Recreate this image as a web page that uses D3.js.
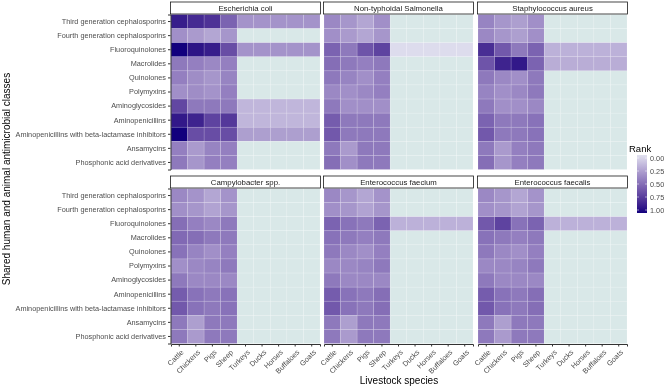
<!DOCTYPE html>
<html>
<head>
<meta charset="utf-8">
<script src="https://cdn.jsdelivr.net/npm/d3@7"></script>
<style>
  body { margin: 0; background: #fff; }
  svg { font-family: "Liberation Sans", Arial, sans-serif; will-change: transform; }
</style>
</head>
<body>
<div id="chart"></div>
<script>
// categories
const classes = ["Third generation cephalosporins", "Fourth generation cephalosporins",
  "Fluoroquinolones", "Macrolides", "Quinolones", "Polymyxins", "Aminoglycosides",
  "Aminopenicillins", "Aminopenicillins with beta-lactamase inhibitors", "Ansamycins",
  "Phosphonic acid derivatives"];
const species = ["Cattle", "Chickens", "Pigs", "Sheep", "Turkeys", "Ducks", "Horses", "Buffaloes", "Goats"];
const pathogens = ["Escherichia coli", "Non-typhoidal Salmonella", "Staphylococcus aureus",
  "Campylobacter spp.", "Enterococcus faecium", "Enterococcus faecalis"];
const legendTicks = [0, 0.25, 0.5, 0.75, 1];

// rank per class: [Cattle, Chickens, Pigs, Sheep], then the value shared by the other species (null = no data)
const ecoli = [
  [0.88, 0.82, 0.78, 0.55, 0.33], [0.35, 0.30, 0.25, 0.32, null], [1.00, 0.92, 0.88, 0.65, 0.33],
  [0.45, 0.42, 0.38, 0.42, null], [0.42, 0.36, 0.32, 0.40, null], [0.35, 0.36, 0.33, 0.42, null],
  [0.68, 0.45, 0.45, 0.45, 0.18], [0.90, 0.85, 0.70, 0.75, 0.18], [1.00, 0.65, 0.65, 0.65, 0.28],
  [0.42, 0.30, 0.40, 0.42, null], [0.45, 0.32, 0.42, 0.42, null]];
const salmonella = [
  [0.38, 0.32, 0.25, 0.35, null], [0.35, 0.30, 0.25, 0.32, null], [0.55, 0.45, 0.62, 0.70, 0.02],
  [0.50, 0.45, 0.42, 0.45, null], [0.45, 0.40, 0.35, 0.42, null], [0.38, 0.35, 0.38, 0.42, null],
  [0.45, 0.35, 0.35, 0.35, null], [0.58, 0.45, 0.45, 0.45, null], [0.60, 0.45, 0.45, 0.45, null],
  [0.45, 0.30, 0.45, 0.45, null], [0.50, 0.35, 0.45, 0.45, null]];
const saureus = [
  [0.40, 0.32, 0.28, 0.35, null], [0.38, 0.32, 0.28, 0.35, null], [0.80, 0.60, 0.45, 0.55, 0.20],
  [0.62, 0.85, 0.90, 0.55, 0.22], [0.45, 0.38, 0.35, 0.45, null], [0.40, 0.35, 0.38, 0.45, null],
  [0.45, 0.35, 0.35, 0.38, null], [0.55, 0.45, 0.45, 0.48, null], [0.60, 0.45, 0.45, 0.48, null],
  [0.45, 0.30, 0.42, 0.45, null], [0.50, 0.32, 0.42, 0.45, null]];
const campylo = [
  [0.38, 0.33, 0.25, 0.33, null], [0.35, 0.32, 0.26, 0.32, null], [0.50, 0.42, 0.38, 0.45, null],
  [0.52, 0.50, 0.45, 0.45, null], [0.48, 0.40, 0.35, 0.42, null], [0.35, 0.38, 0.40, 0.45, null],
  [0.45, 0.38, 0.38, 0.38, null], [0.58, 0.48, 0.45, 0.48, null], [0.60, 0.48, 0.45, 0.48, null],
  [0.45, 0.28, 0.45, 0.45, null], [0.45, 0.30, 0.45, 0.45, null]];
const efaecium = [
  [0.38, 0.32, 0.25, 0.33, null], [0.35, 0.32, 0.26, 0.32, null], [0.55, 0.48, 0.45, 0.55, 0.20],
  [0.48, 0.45, 0.42, 0.45, null], [0.45, 0.38, 0.35, 0.42, null], [0.38, 0.38, 0.40, 0.45, null],
  [0.45, 0.38, 0.38, 0.38, null], [0.58, 0.48, 0.45, 0.50, null], [0.60, 0.48, 0.45, 0.50, null],
  [0.45, 0.28, 0.45, 0.45, null], [0.45, 0.30, 0.45, 0.45, null]];
const efaecalis = [
  [0.38, 0.32, 0.25, 0.33, null], [0.35, 0.32, 0.26, 0.32, null], [0.60, 0.70, 0.48, 0.55, 0.20],
  [0.48, 0.45, 0.42, 0.45, null], [0.45, 0.38, 0.35, 0.42, null], [0.38, 0.38, 0.40, 0.45, null],
  [0.45, 0.38, 0.38, 0.38, null], [0.58, 0.48, 0.45, 0.50, null], [0.60, 0.48, 0.45, 0.50, null],
  [0.45, 0.28, 0.45, 0.45, null], [0.45, 0.30, 0.45, 0.45, null]];
const ranks = [ecoli, salmonella, saureus, campylo, efaecium, efaecalis];

const W = 669, H = 386;
const svg = d3.select("#chart").append("svg").attr("width", W).attr("height", H);

const colX = [171, 324, 478], panelW = 149;
const rowY = [14.5, 188.5], panelH = 155;
const stripH = 12;

const color = d3.scaleLinear().domain([0, 1]).range(["#e1e1ef", "#12007d"]).interpolate(d3.interpolateLab);
const naColor = "#d9e8e8";

const x = d3.scaleBand().domain(species).range([0, panelW]);
const y = d3.scaleBand().domain(classes).range([0, panelH]);

pathogens.forEach((p, pi) => {
  const c = pi % 3, r = Math.floor(pi / 3);
  const g = svg.append("g").attr("transform", `translate(${colX[c]},${rowY[r]})`);

  const cells = [];
  classes.forEach((cl, ci) => {
    species.forEach((sp, si) => {
      const row = ranks[pi][ci];
      cells.push({cl, sp, v: si < 4 ? row[si] : row[4]});
    });
  });

  g.selectAll("rect.cell").data(cells).enter().append("rect")
    .attr("class", "cell")
    .attr("x", d => x(d.sp)).attr("y", d => y(d.cl))
    .attr("width", x.bandwidth()).attr("height", y.bandwidth())
    .attr("fill", d => d.v == null ? naColor : color(d.v))
    .attr("stroke", "#fff").attr("stroke-opacity", 0.22).attr("stroke-width", 0.6);

  // strip
  svg.append("rect")
    .attr("x", colX[c] - 0.5).attr("y", rowY[r] - stripH - 0.5)
    .attr("width", panelW + 1).attr("height", stripH)
    .attr("fill", "#fff").attr("stroke", "#1a1a1a").attr("stroke-width", 0.8);
  svg.append("text")
    .attr("x", colX[c] + panelW / 2).attr("y", rowY[r] - stripH / 2 - 0.5)
    .attr("text-anchor", "middle").attr("dominant-baseline", "central")
    .attr("font-size", 7.8).attr("fill", "#1a1a1a").text(p);

  if (c === 0) {
    const ax = g.append("g").attr("transform", "translate(-0.5,0)").call(d3.axisLeft(y).tickSize(2.5).tickPadding(2));
    ax.select(".domain").attr("stroke", "#333").attr("stroke-width", 1);
    ax.selectAll(".tick line").attr("stroke", "#333");
    ax.selectAll("text").attr("font-size", 7.3).attr("fill", "#4d4d4d").attr("font-family", null);
  }
  if (r === 1) {
    const ax = g.append("g").attr("transform", `translate(0,${panelH + 0.5})`)
      .call(d3.axisBottom(x).tickSize(2.5).tickPadding(2));
    ax.select(".domain").attr("stroke", "#333").attr("stroke-width", 1);
    ax.selectAll(".tick line").attr("stroke", "#333");
    ax.selectAll("text").attr("font-size", 7.3).attr("fill", "#4d4d4d").attr("font-family", null)
      .attr("text-anchor", "end").attr("dy", null).attr("y", 0).attr("dominant-baseline", "central")
      .attr("transform", "translate(3,7) rotate(-45)");
  }
});

// axis titles
svg.append("text")
  .attr("x", (colX[0] + colX[2] + panelW) / 2).attr("y", 384)
  .attr("text-anchor", "middle").attr("font-size", 10).attr("fill", "#000")
  .text("Livestock species");
svg.append("text")
  .attr("transform", `translate(10,${(rowY[0] + rowY[1] + panelH) / 2}) rotate(-90)`)
  .attr("text-anchor", "middle").attr("font-size", 10).attr("fill", "#000")
  .text("Shared human and animal antimicrobial classes");

// legend
const lg = svg.append("g").attr("transform", "translate(637,155)");
lg.append("text").attr("x", -8).attr("y", -3).attr("font-size", 9.5).attr("fill", "#000").text("Rank");
const grad = svg.append("defs").append("linearGradient").attr("id", "rankGrad")
  .attr("x1", 0).attr("y1", 0).attr("x2", 0).attr("y2", 1);
d3.range(0, 1.01, 0.1).forEach(t => {
  grad.append("stop").attr("offset", t).attr("stop-color", color(t));
});
const lh = 58;
lg.append("rect").attr("x", 0).attr("y", 0).attr("width", 10).attr("height", lh).attr("fill", "url(#rankGrad)");
const ly = d3.scaleLinear().domain([0, 1]).range([3, lh - 3]);
lg.selectAll("line.lt").data(legendTicks).enter().append("line")
  .attr("x1", 0).attr("x2", 2).attr("y1", d => ly(d)).attr("y2", d => ly(d)).attr("stroke", "#fff").attr("stroke-width", 0.5);
lg.selectAll("line.rt").data(legendTicks).enter().append("line")
  .attr("x1", 8).attr("x2", 10).attr("y1", d => ly(d)).attr("y2", d => ly(d)).attr("stroke", "#fff").attr("stroke-width", 0.5);
lg.selectAll("text.lab").data(legendTicks).enter().append("text")
  .attr("class", "lab")
  .attr("x", 13).attr("y", d => ly(d)).attr("dominant-baseline", "central")
  .attr("font-size", 7.3).attr("fill", "#4d4d4d").text(d => d.toFixed(2));
</script>
</body>
</html>
